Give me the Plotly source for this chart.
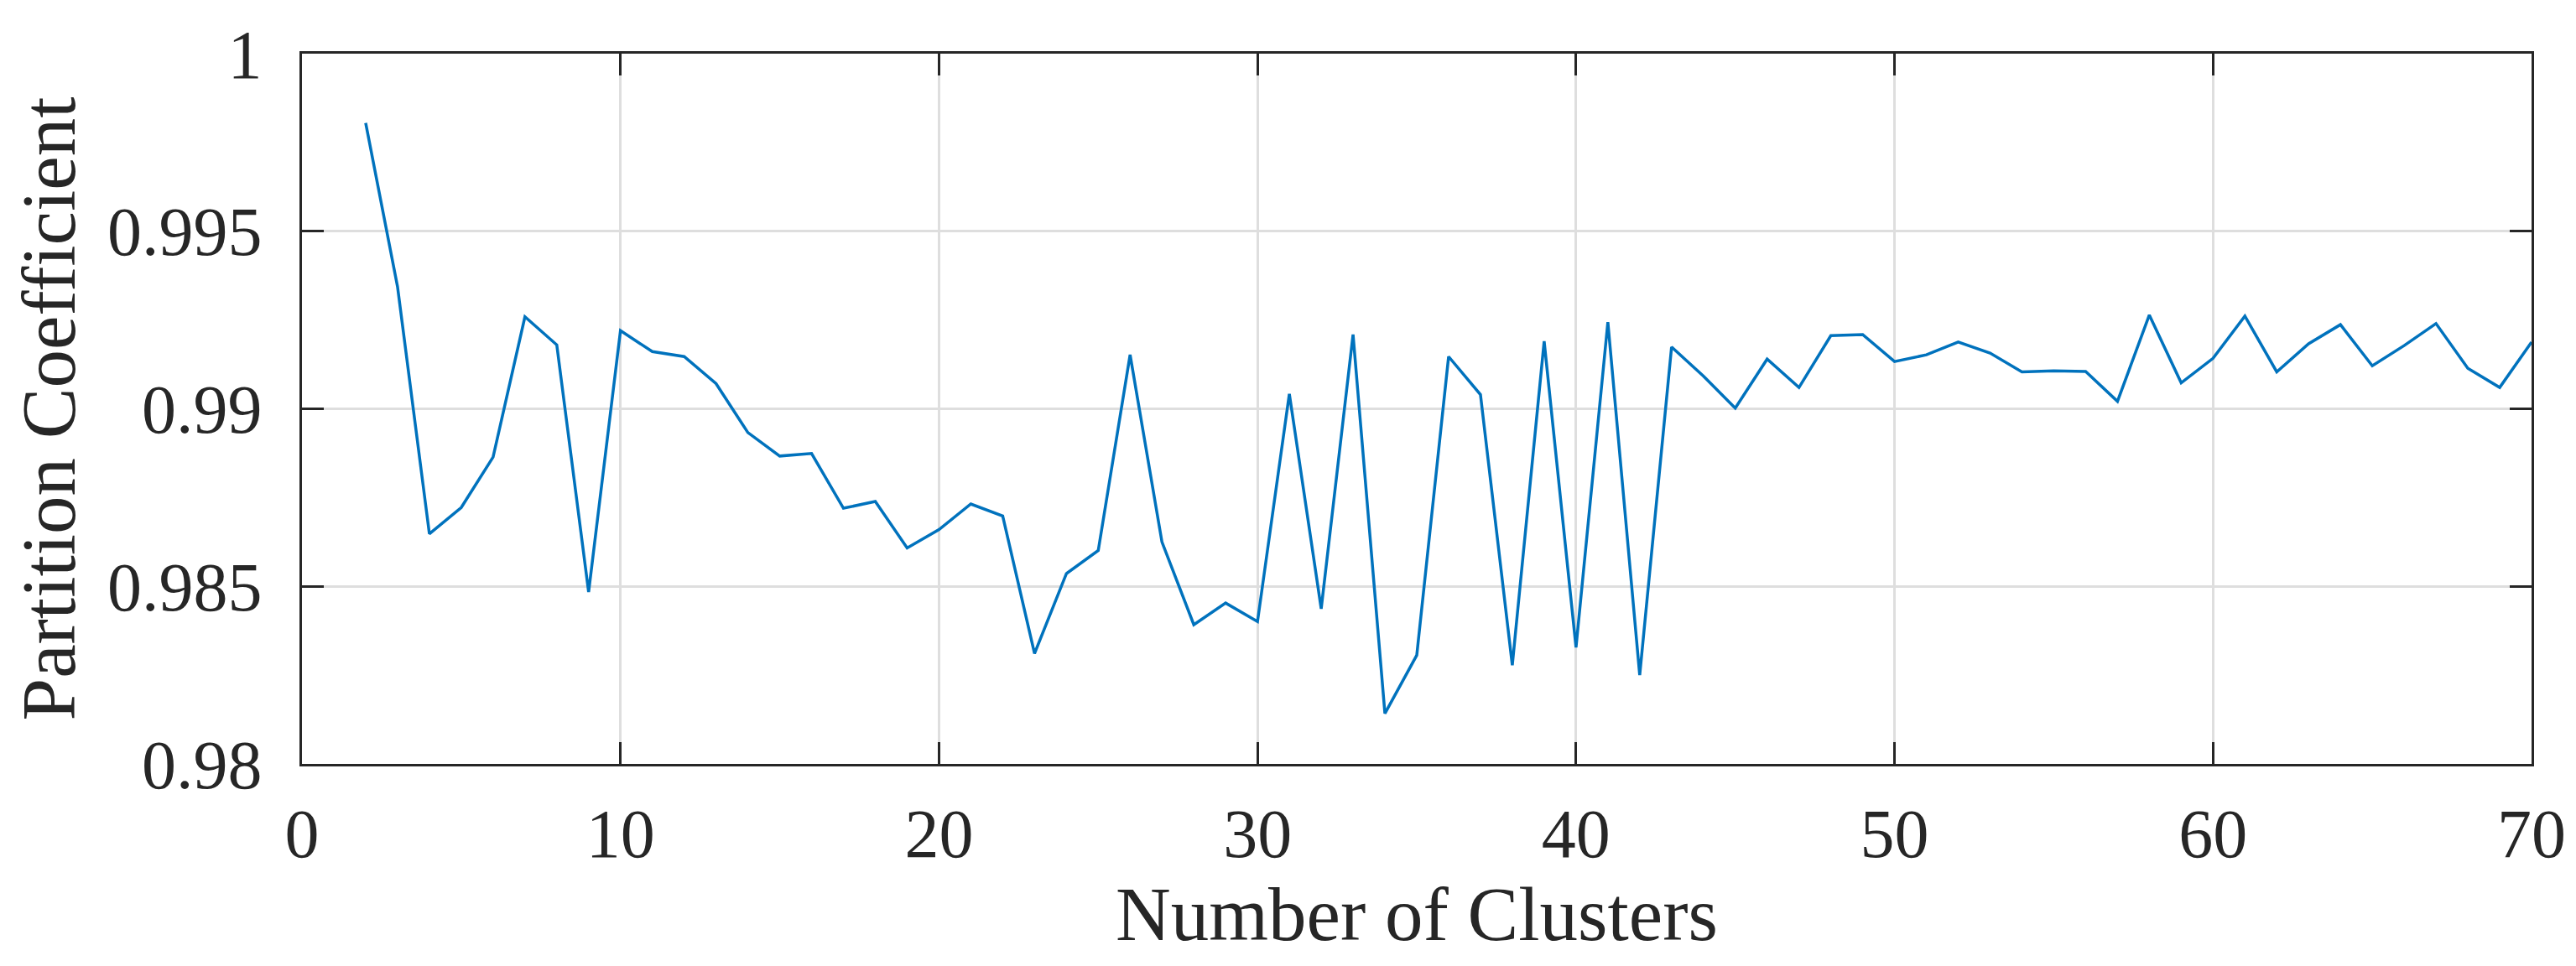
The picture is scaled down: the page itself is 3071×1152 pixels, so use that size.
import plotly.graph_objects as go

# Partition coefficient vs number of clusters
n_clusters = list(range(2, 71))
partition_coef = [
    0.99805, 0.99344, 0.98648, 0.98722, 0.98864, 0.99259, 0.99180, 0.98484,
    0.99220, 0.99161, 0.99147, 0.99071, 0.98933, 0.98867, 0.98874, 0.98720,
    0.98739, 0.98608, 0.98660, 0.98732, 0.98698, 0.98311, 0.98536, 0.98601,
    0.99152, 0.98625, 0.98392, 0.98453, 0.98401, 0.99042, 0.98437, 0.99209,
    0.98142, 0.98306, 0.99147, 0.99040, 0.98278, 0.99190, 0.98328, 0.99244,
    0.98250, 0.99174, 0.99092, 0.99002, 0.99140, 0.99060, 0.99206, 0.99209,
    0.99133, 0.99152, 0.99188, 0.99157, 0.99104, 0.99107, 0.99105, 0.99021,
    0.99264, 0.99073, 0.99142, 0.99261, 0.99104, 0.99183, 0.99237, 0.99121,
    0.99178, 0.99240, 0.99114, 0.99060, 0.99188,
]

x_ticks = [0, 10, 20, 30, 40, 50, 60, 70]
y_ticks = [0.98, 0.985, 0.99, 0.995, 1.0]
y_labels = ["0.98", "0.985", "0.99", "0.995", "1"]

FONT = "Liberation Serif"
INK = "#262626"

fig = go.Figure()
fig.add_trace(go.Scatter(x=n_clusters, y=partition_coef, mode="lines",
                         line={"color": "#0072BD", "width": 3.5},
                         showlegend=False))

# matlab-like box: inside ticks on all four sides, light grid
axis_style = dict(showline=True, linecolor=INK, linewidth=3, mirror="ticks",
                  ticks="inside", ticklen=26, tickwidth=3, tickcolor=INK,
                  showgrid=True, gridcolor="#dedede", gridwidth=2.5,
                  zeroline=False, tickfont={"family": FONT, "size": 82,
                                            "color": INK})

fig.update_xaxes(range=[0, 70], tickvals=x_ticks, ticklabelstandoff=10,
                 **axis_style,
                 title={"text": "Number of Clusters", "standoff": 15,
                        "font": {"family": FONT, "size": 91, "color": INK}})
fig.update_yaxes(range=[0.98, 1.0], tickvals=y_ticks, ticktext=y_labels,
                 ticklabelstandoff=28, **axis_style,
                 title={"text": "Partition Coefficient", "standoff": 19,
                        "font": {"family": FONT, "size": 91, "color": INK}})

fig.update_layout(width=3071, height=1152,
                  margin={"l": 352, "r": 61, "t": 50, "b": 249},
                  plot_bgcolor="white", paper_bgcolor="white")

fig.write_html("out.html")
